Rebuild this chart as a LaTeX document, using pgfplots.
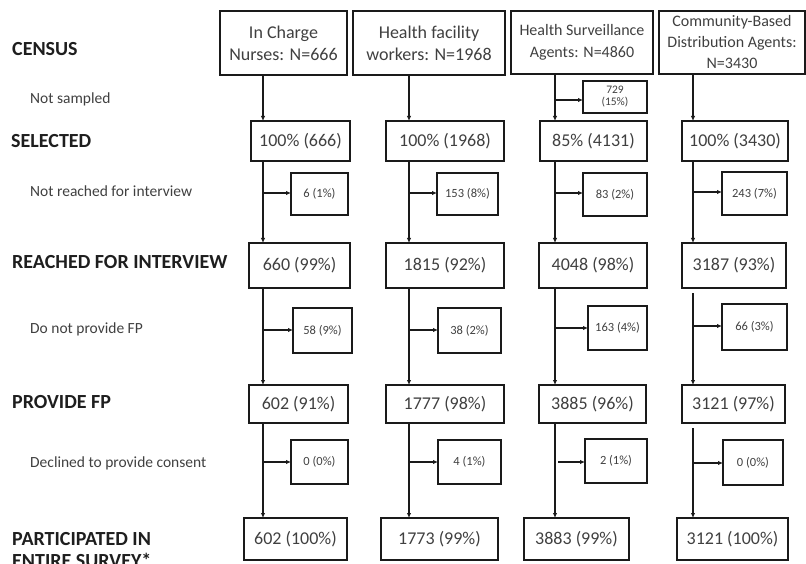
\documentclass[border=0pt]{standalone}
\usepackage{pgfplots}
\pgfplotsset{compat=1.18}
\usepackage{fontspec}
\setmainfont{Carlito}
\usetikzlibrary{arrows.meta}
\definecolor{txt}{HTML}{404040}
\definecolor{hd}{HTML}{1E1E1E}
\definecolor{ln}{HTML}{1A1A1A}
% box: x1 y1 x2 y2 fontsize text
\newcommand{\bx}[6]{%
  \draw[ln,line width=2pt] (axis cs:#1,#2) rectangle (axis cs:#3,#4);
  \node[txt,align=center,inner sep=0pt,font=\fontsize{#5}{22}\selectfont] at (axis cs:{(#1+#3)/2},{(#2+#4)/2}) {#6};}
\newcommand{\vl}[3]{\draw[ln,line width=1.8pt,-{Latex[length=5pt,width=4.5pt]}] (axis cs:#1,#2) -- (axis cs:#1,#3);}
\newcommand{\hl}[3]{\draw[ln,line width=1.8pt,-{Latex[length=5pt,width=4.5pt]}] (axis cs:#1,#3) -- (axis cs:#2,#3);}
\newcommand{\lab}[3]{\node[hd,anchor=base west,inner sep=0pt,font=\fontsize{20}{24}\selectfont\bfseries] at (axis cs:#1,#2) {#3};}
\newcommand{\sub}[3]{\node[txt,anchor=base west,inner sep=0pt,font=\fontsize{15.5}{18}\selectfont] at (axis cs:#1,#2) {#3};}
\begin{document}
\begin{tikzpicture}
\begin{axis}[hide axis, scale only axis, width=806pt, height=564pt,
  xmin=0, xmax=806, ymin=0, ymax=564, y dir=reverse, clip=false,
  at={(0,0)}, anchor=south west]
% left labels
\lab{12}{56}{CENSUS}
\sub{30}{104}{Not sampled}
\lab{11}{148}{SELECTED}
\sub{30}{197}{Not reached for interview}
\lab{12}{269}{REACHED FOR INTERVIEW}
\sub{30}{333}{Do not provide FP}
\lab{12}{408}{PROVIDE FP}
\sub{30}{467}{Declined to provide consent}
\lab{12}{545}{PARTICIPATED IN}
\lab{12}{567}{ENTIRE SURVEY*}
% headers
\bx{220}{11}{347}{75}{18}{In Charge\\Nurses: N=666}
\bx{353}{11}{505}{75}{18}{Health facility\\workers: N=1968}
\bx{511}{11}{653}{74}{16}{Health Surveillance\\Agents: N=4860}
\bx{659}{11}{805}{74}{16}{Community-Based\\[-1pt]Distribution Agents:\\[-1pt]N=3430}
% not sampled
\bx{583}{81}{647}{113}{11.5}{729\\[-10pt](15\%)}
% selected
\bx{251}{121}{350}{161}{18}{100\% (666)}
\bx{386}{121}{504}{161}{18}{100\% (1968)}
\bx{540}{121}{647}{161}{18}{85\% (4131)}
\bx{682}{121}{788}{161}{18}{100\% (3430)}
% not reached
\bx{291}{173}{348}{215}{12.5}{6 (1\%)}
\bx{437}{173}{498}{215}{12.5}{153 (8\%)}
\bx{583}{173}{647}{216}{12.5}{83 (2\%)}
\bx{722}{172}{787}{215}{12.5}{243 (7\%)}
% reached
\bx{249}{243}{350}{288}{18}{660 (99\%)}
\bx{386}{243}{504}{288}{18}{1815 (92\%)}
\bx{539}{243}{647}{288}{18}{4048 (98\%)}
\bx{682}{243}{786}{288}{18}{3187 (93\%)}
% do not provide
\bx{293}{308}{352}{353}{12.5}{58 (9\%)}
\bx{438}{308}{501}{353}{12.5}{38 (2\%)}
\bx{588}{306}{647}{350}{12.5}{163 (4\%)}
\bx{722}{304}{787}{350}{12.5}{66 (3\%)}
% provide
\bx{249}{385}{348}{423}{18}{602 (91\%)}
\bx{386}{385}{504}{423}{18}{1777 (98\%)}
\bx{539}{385}{646}{423}{18}{3885 (96\%)}
\bx{682}{385}{785}{423}{18}{3121 (97\%)}
% declined
\bx{291}{440}{348}{484}{12.5}{0 (0\%)}
\bx{438}{440}{501}{484}{12.5}{4 (1\%)}
\bx{585}{439}{647}{483}{12.5}{2 (1\%)}
\bx{723}{440}{783}{485}{12.5}{0 (0\%)}
% participated
\bx{244}{518}{347}{560}{18}{602 (100\%)}
\bx{381}{518}{498}{560}{18}{1773 (99\%)}
\bx{524}{518}{629}{560}{18}{3883 (99\%)}
\bx{677}{518}{788}{560}{18}{3121 (100\%)}
% column 1 flow
\vl{263}{75}{121} \vl{263}{161}{243} \vl{263}{288}{385} \vl{263}{423}{518}
\hl{263}{291}{193} \hl{263}{293}{330} \hl{263}{291}{462}
% column 2 flow
\vl{409}{75}{121} \vl{409}{161}{243} \vl{409}{288}{385} \vl{409}{423}{518}
\hl{409}{437}{193} \hl{409}{438}{330} \hl{409}{438}{462}
% column 3 flow
\vl{555}{74}{121} \vl{555}{161}{243} \vl{555}{288}{385} \vl{555}{423}{518}
\hl{555}{583}{100} \hl{555}{583}{193} \hl{555}{588}{328} \hl{558}{585}{462}
% column 4 flow
\vl{693}{74}{121} \vl{693}{161}{243} \vl{693}{293}{385} \vl{693}{428}{518}
\hl{693}{722}{192} \hl{693}{722}{326} \hl{693}{723}{463}
\end{axis}
\pgfresetboundingbox
\path (0,0) rectangle (806pt,564pt);
\end{tikzpicture}
\end{document}
